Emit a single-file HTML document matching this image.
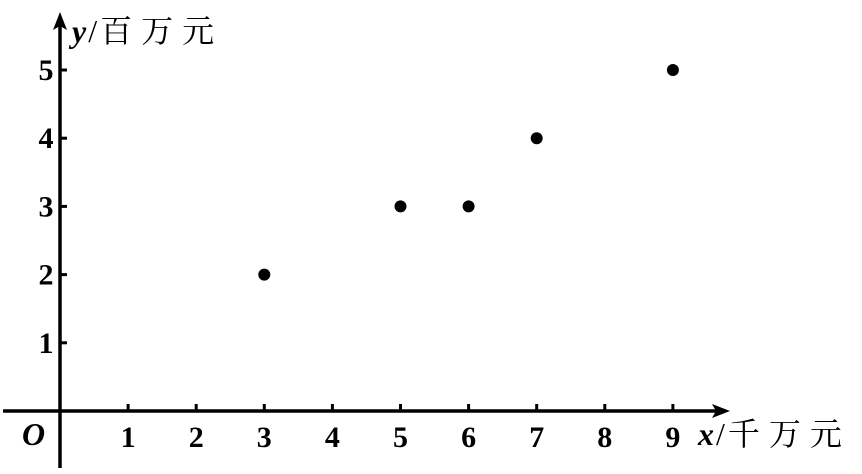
<!DOCTYPE html>
<html><head><meta charset="utf-8"><style>
html,body{margin:0;padding:0;background:#fff;}
svg{display:block;}
text{font-family:"Liberation Serif","Noto Serif CJK SC",serif;fill:#000;}
.num{font-weight:bold;font-size:30px;}
</style></head><body>
<svg id="chart" width="862" height="474" viewBox="0 0 862 474">
<g id="axes">
<line x1="3" y1="411" x2="718" y2="411" stroke="#000" stroke-width="3.5"/>
<polygon points="730,411 712,404 716,411 712,418" fill="#000"/>
<line x1="60" y1="468" x2="60" y2="24" stroke="#000" stroke-width="3.5"/>
<polygon points="60,12 53,30 60,26 67,30" fill="#000"/>
<text x="22" y="445" font-size="32" font-style="italic" font-weight="bold">O</text>
<text x="698" y="445" font-size="32"><tspan font-style="italic" font-weight="bold">x</tspan><tspan dx="2">/</tspan><tspan dx="3" letter-spacing="9">千万元</tspan></text>
<text x="72" y="42" font-size="32"><tspan font-style="italic" font-weight="bold">y</tspan><tspan dx="2">/</tspan><tspan dx="3" letter-spacing="9">百万元</tspan></text>
</g>
<g id="ticks"></g>
<g id="points"></g>
</svg>
<script>
const xTicks=[1,2,3,4,5,6,7,8,9];
const yTicks=[1,2,3,4,5];
const xVals=[3,5,6,7,9];
const yVals=[2,3,3,4,5];
const X=v=>60+68.1*v, Y=v=>411-68.2*v;
const NS="http://www.w3.org/2000/svg";
const tg=document.getElementById('ticks'), pg=document.getElementById('points');
function mk(tag,attrs,parent){const e=document.createElementNS(NS,tag);for(const k in attrs)e.setAttribute(k,attrs[k]);parent.appendChild(e);return e;}
xTicks.forEach(v=>{
 const l=mk('line',{x1:X(v),x2:X(v),y1:404,y2:411,stroke:'#000','stroke-width':3},tg);
 
 
 const t=mk('text',{x:X(v),y:447,'text-anchor':'middle',class:'num'},tg);t.textContent=v;
 
 
});
yTicks.forEach(v=>{
 const l=mk('line',{x1:60,x2:67,y1:Y(v),y2:Y(v),stroke:'#000','stroke-width':3},tg);
 
 
 const t=mk('text',{x:46,y:Y(v)+10,'text-anchor':'middle',class:'num'},tg);t.textContent=v;
 
 
});
xVals.forEach((v,i)=>{
 const c=mk('circle',{cx:X(v),cy:Y(yVals[i]),r:6,fill:'#000'},pg);
 
 
});
</script>
</body></html>
